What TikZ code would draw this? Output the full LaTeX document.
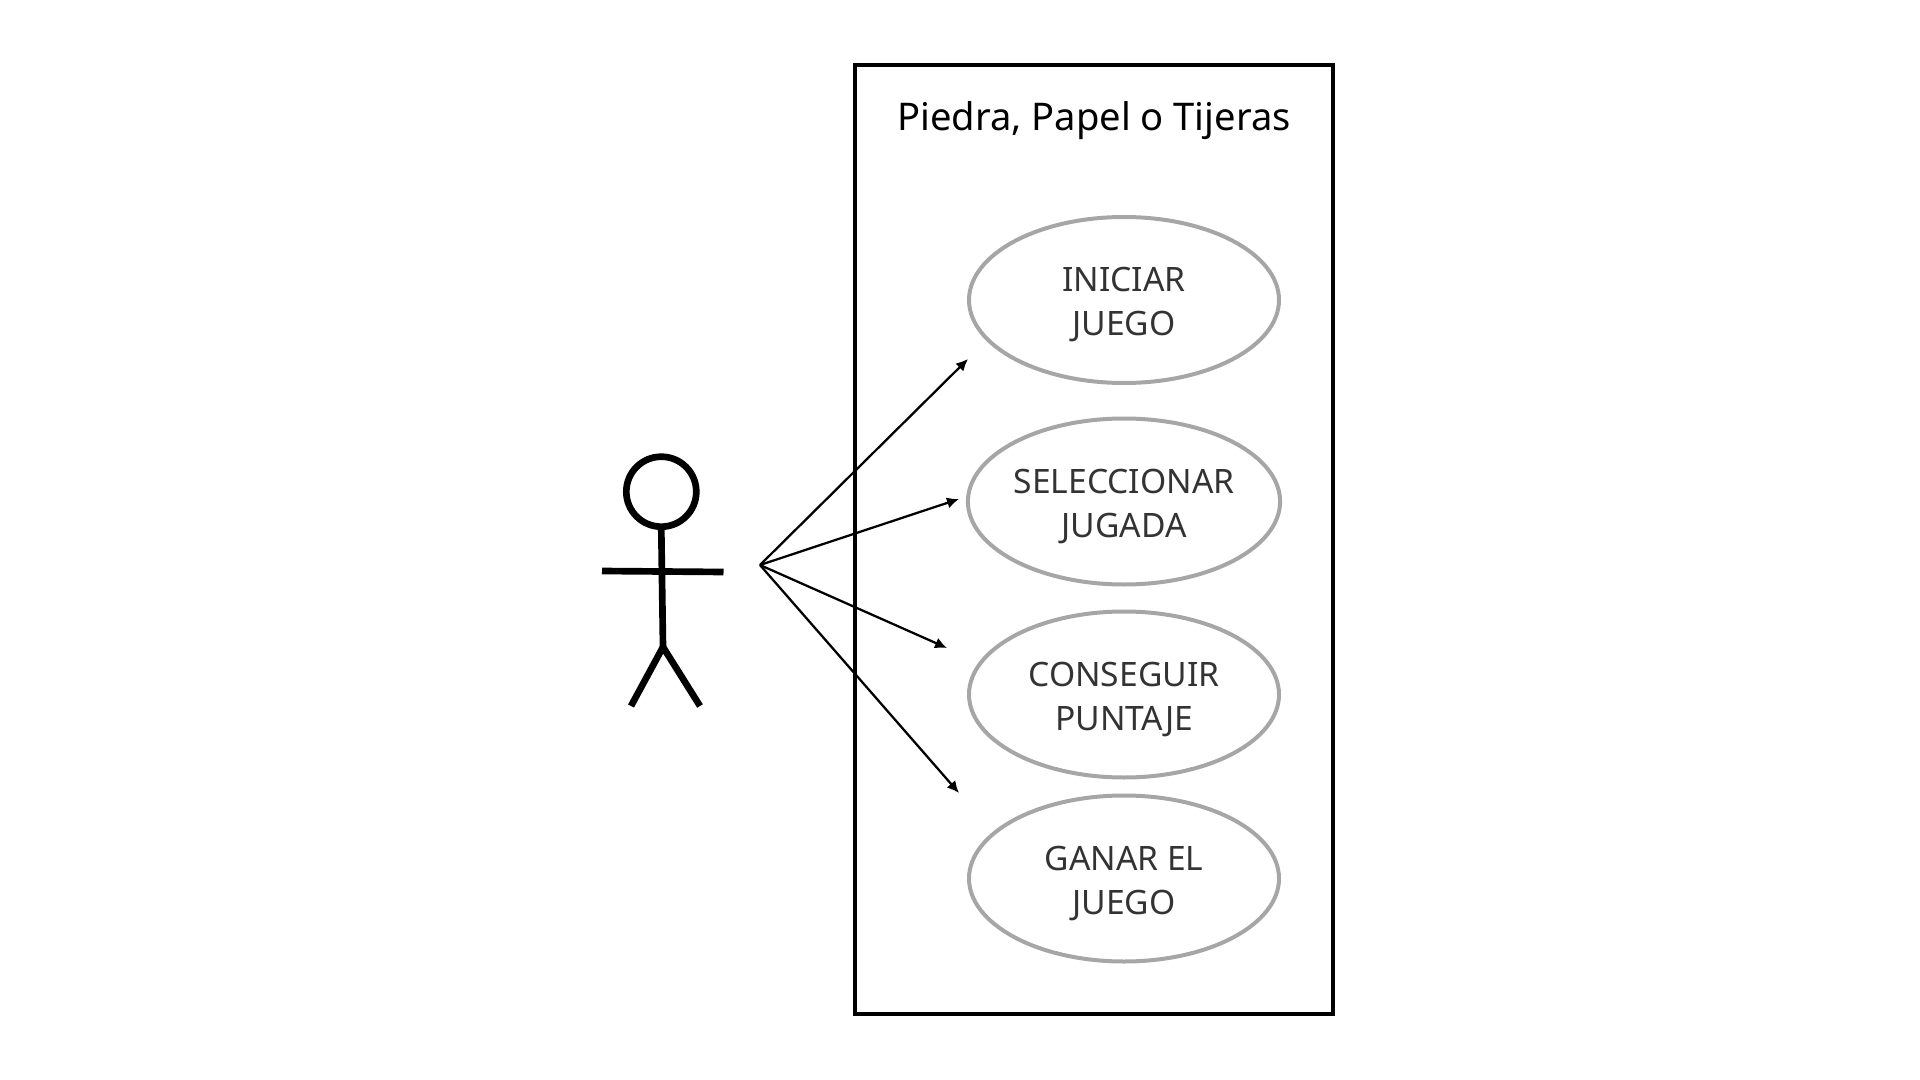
\documentclass[tikz,border=0pt]{standalone}
\usepackage{fontspec}
\setmainfont{Noto Sans}
\usetikzlibrary{arrows.meta,shapes.geometric}
\definecolor{ovalgray}{HTML}{A6A6A6}
\definecolor{textgray}{HTML}{333333}
\tikzset{
usecase/.style={ellipse, draw=ovalgray, line width=3pt, minimum width=232.5pt, minimum height=124.5pt,
    inner sep=0pt, align=center, text=textgray, font=\fontsize{25.2}{33.2}\selectfont,
    text height=55pt, text depth=1.2pt},
limb/.style={line width=5pt},
link/.style={line width=1.7pt, -{Latex[length=9pt,width=8.5pt]}}
}
\begin{document}
\begin{tikzpicture}[x=0.75pt, y=-0.75pt]
\useasboundingbox (0,0) rectangle (1920,1080);
\draw[line width=2.8pt] (855,65) rectangle (1333,1014);
\node[font=\fontsize{28.6}{33}\selectfont] (title) at (1094,121) {Piedra, Papel o Tijeras};
% use cases
\node[usecase] (iniciar) at (1124,300) {INICIAR\\JUEGO};
\node[usecase] (jugada) at (1124,501.5) {SELECCIONAR\\JUGADA};
\node[usecase] (puntaje) at (1124,694.5) {CONSEGUIR\\PUNTAJE};
\node[usecase] (ganar) at (1124,878.5) {GANAR EL\\JUEGO};
% actor
\node[circle, draw, line width=5pt, minimum size=52.5pt, inner sep=0pt] (head) at (661.3,491.7) {};
\coordinate (hip) at (663,647);
\coordinate (armL) at (602,571);
\coordinate (armR) at (723.5,572);
\coordinate (footL) at (631,706);
\coordinate (footR) at (700,706);
\draw[limb] (head.south) -- (hip);
\draw[limb] (armL) -- (armR);
\draw[limb] (footL) -- (hip) -- (footR);
% arrows
\coordinate (origin) at (760,565);
\coordinate (toIniciar) at (968,359);
\coordinate (toJugada) at (959,499);
\coordinate (toPuntaje) at (947,648);
\coordinate (toGanar) at (959,793);
\foreach \target in {toIniciar,toJugada,toPuntaje,toGanar}
    \draw[link] (origin) -- (\target);
\end{tikzpicture}
\end{document}
